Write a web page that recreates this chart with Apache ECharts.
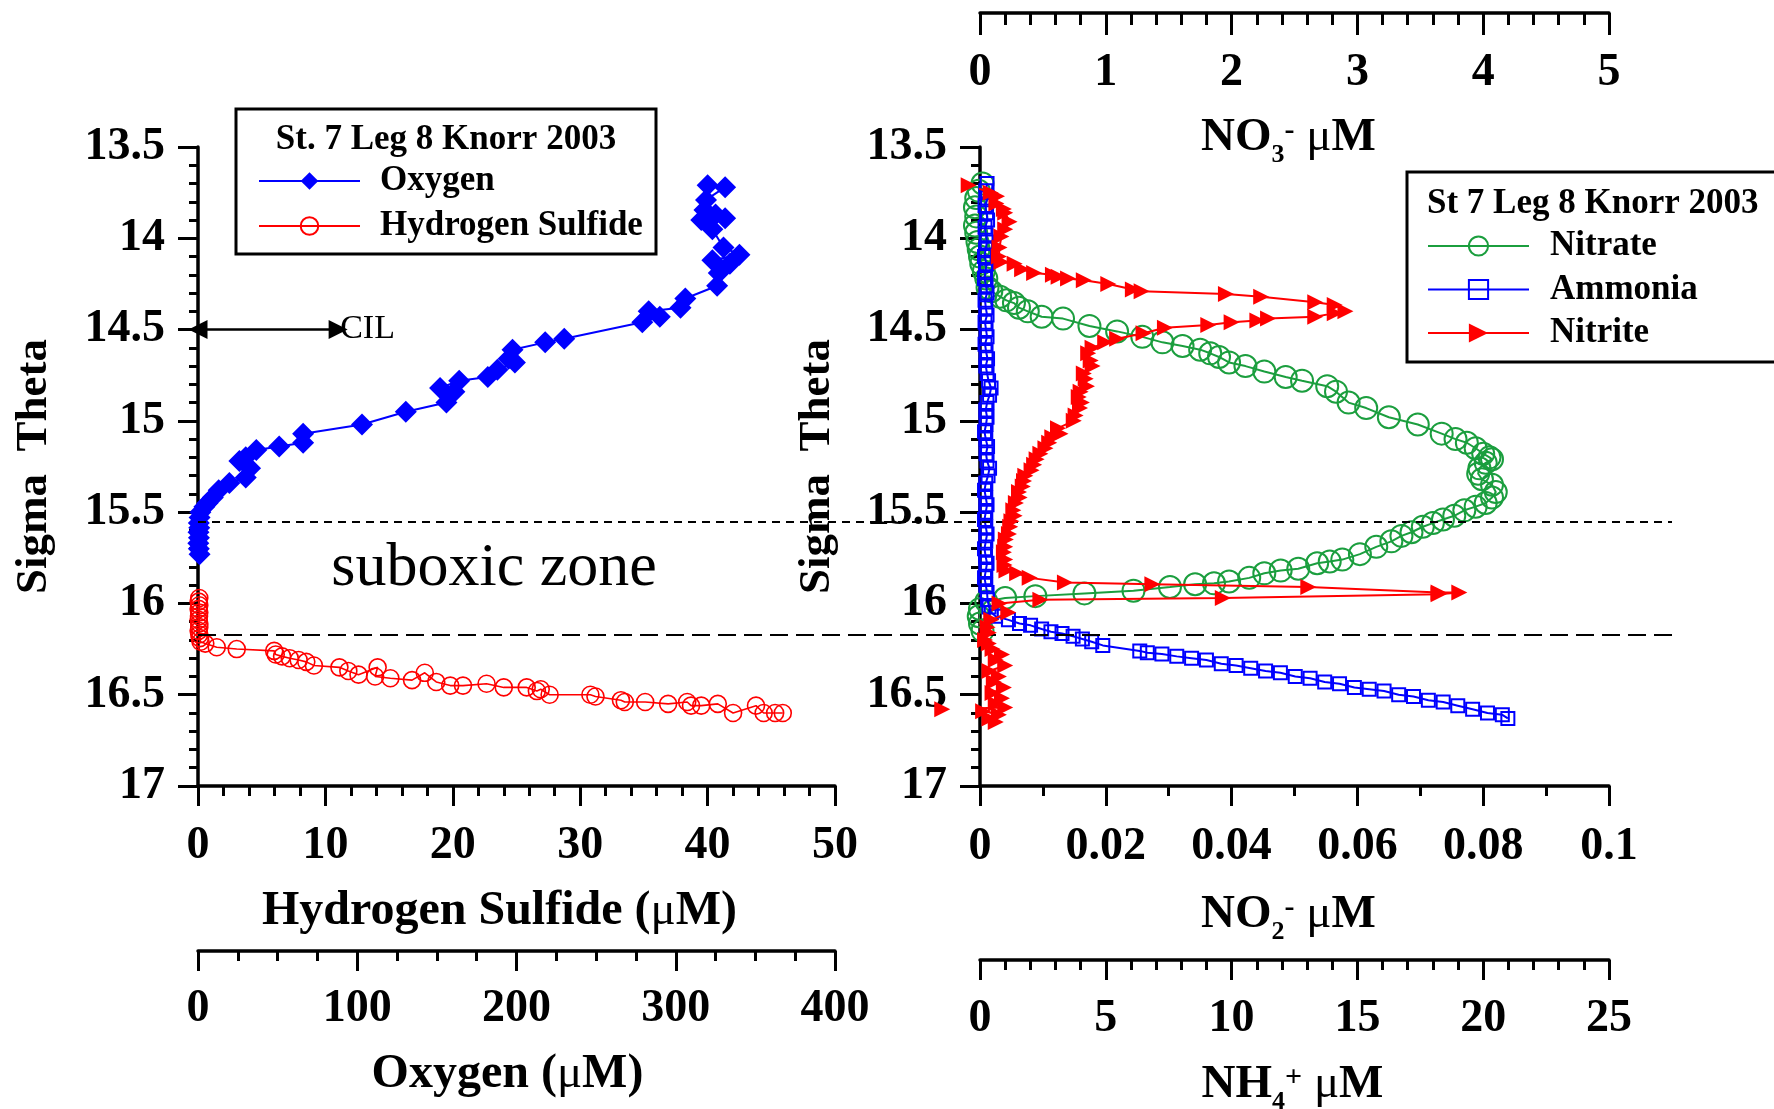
<!DOCTYPE html>
<html>
<head>
<meta charset="utf-8">
<script src="https://cdn.jsdelivr.net/npm/echarts@6/dist/echarts.min.js"></script>
<style>
html,body{margin:0;padding:0;background:#fff;}
#chart{width:1774px;height:1109px;}
</style>
</head>
<body>
<div id="chart"></div>
<script>
// ---------- DATA ----------
// Oxygen: [O2 (uM), sigma-theta]
const oxygen = [
 [320,13.71],[331,13.72],[319,13.79],[318,13.845],[325,13.87],[331,13.89],[316,13.90],[323,13.95],
 [330,14.05],[340,14.09],[323,14.12],[334,14.14],[327,14.19],[326,14.26],[306,14.33],[303,14.38],
 [283,14.40],[290,14.43],[279,14.46],[230,14.55],[218,14.57],[197.5,14.61],[195,14.66],[199,14.68],
 [188,14.72],[182,14.76],[164,14.78],[152,14.82],[161,14.84],[156,14.90],[130.5,14.95],[103,15.02],
 [66,15.07],[66,15.12],[51,15.14],[36.6,15.16],[30,15.20],[26,15.22],[32.7,15.26],[30,15.31],
 [19.7,15.34],[13,15.38],[9.3,15.42],[6,15.45],[4,15.47],[1.5,15.50],[1,15.53],[0.5,15.56],
 [0.8,15.585],[0.3,15.61],[0.6,15.64],[0.2,15.67],[0.5,15.70],[1,15.73]
];
// Hydrogen sulfide: [H2S (uM), sigma-theta]
const hydrogenSulfide = [
 [0.1,15.97],[0.05,15.99],[0.1,16.01],[0.05,16.03],[0.1,16.05],[0.08,16.07],[0.05,16.09],[0.1,16.11],
 [0.1,16.13],[0.05,16.15],[0.1,16.17],[0.15,16.19],[0.2,16.21],[0.57,16.22],[1.47,16.24],[3.04,16.25],
 [5.98,16.26],[6.1,16.28],[6.6,16.29],[7.2,16.30],[7.9,16.31],[8.5,16.32],[9.1,16.34],[11.1,16.35],
 [11.8,16.37],[12.6,16.39],[14.1,16.35],[13.9,16.40],[15.1,16.41],[16.8,16.42],[17.8,16.38],[18.7,16.43],
 [19.8,16.45],[20.8,16.45],[22.65,16.44],[24.0,16.46],[25.8,16.46],[26.6,16.48],[26.9,16.47],[27.6,16.50],
 [30.8,16.50],[31.2,16.51],[33.2,16.53],[33.5,16.54],[35.1,16.54],[36.9,16.55],[38.4,16.54],[38.7,16.56],
 [39.5,16.56],[40.8,16.55],[42.0,16.60],[43.8,16.56],[44.4,16.60],[45.3,16.60],[45.9,16.60]
];
// Nitrate: [NO3 (uM), sigma-theta]
const nitrate = [
 [0.02,13.70],[-0.01,13.74],[-0.03,13.78],[-0.04,13.83],[-0.03,13.88],[-0.04,13.93],[-0.03,13.97],[-0.02,14.02],
 [-0.01,14.06],[0.0,14.10],[0.01,14.14],[0.03,14.18],[0.05,14.22],[0.06,14.27],[0.09,14.29],[0.16,14.32],
 [0.21,14.34],[0.27,14.355],[0.31,14.38],[0.38,14.40],[0.49,14.43],[0.66,14.44],[0.87,14.48],[1.09,14.51],
 [1.29,14.54],[1.45,14.57],[1.61,14.59],[1.75,14.61],[1.83,14.63],[1.90,14.65],[1.98,14.68],[2.11,14.70],
 [2.26,14.73],[2.43,14.76],[2.56,14.78],[2.76,14.81],[2.83,14.84],[2.93,14.90],[3.07,14.93],[3.25,14.98],
 [3.48,15.02],[3.67,15.07],[3.78,15.10],[3.87,15.12],[3.94,15.15],[4.00,15.18],[4.05,15.20],[4.07,15.21],
 [4.02,15.23],[3.97,15.26],[3.96,15.29],[3.99,15.32],[4.07,15.35],[4.10,15.39],[4.07,15.42],[4.02,15.45],
 [3.94,15.47],[3.85,15.49],[3.77,15.52],[3.68,15.54],[3.60,15.56],[3.52,15.58],[3.43,15.61],[3.35,15.63],
 [3.27,15.66],[3.15,15.69],[3.02,15.73],[2.88,15.76],[2.78,15.77],[2.68,15.78],[2.53,15.81],[2.39,15.82],
 [2.26,15.835],[2.14,15.86],[1.98,15.88],[1.86,15.89],[1.71,15.895],[1.51,15.91],[1.22,15.93],[0.83,15.945],
 [0.44,15.96],[0.20,15.97],[0.05,15.99],[0.0,16.03],[-0.01,16.07],[0.0,16.11],[0.02,16.15]
];
// Ammonia: [NH4 (uM), sigma-theta]
const ammonia = [
 [0.28,13.70],[0.23,13.74],[0.30,13.78],[0.20,13.82],[0.26,13.86],[0.30,13.90],[0.20,13.94],[0.24,13.98],
 [0.28,14.02],[0.22,14.06],[0.18,14.10],[0.26,14.14],[0.22,14.18],[0.18,14.22],[0.24,14.26],[0.28,14.30],
 [0.20,14.34],[0.23,14.38],[0.28,14.42],[0.20,14.46],[0.24,14.50],[0.28,14.54],[0.20,14.58],[0.24,14.62],
 [0.30,14.66],[0.23,14.70],[0.28,14.74],[0.34,14.78],[0.44,14.82],[0.38,14.86],[0.28,14.90],[0.23,14.94],
 [0.28,14.98],[0.24,15.02],[0.18,15.06],[0.23,15.10],[0.30,15.14],[0.24,15.18],[0.28,15.22],[0.38,15.26],
 [0.32,15.30],[0.23,15.34],[0.18,15.38],[0.23,15.42],[0.28,15.46],[0.23,15.50],[0.18,15.54],[0.23,15.58],
 [0.28,15.62],[0.23,15.66],[0.18,15.70],[0.22,15.74],[0.28,15.78],[0.23,15.82],[0.18,15.86],[0.23,15.90],
 [0.28,15.94],[0.30,15.98],[0.36,16.02],[0.45,16.05],[0.62,16.07],[1.13,16.09],[1.57,16.11],[2.01,16.12],
 [2.45,16.14],[2.82,16.155],[3.26,16.165],[3.70,16.18],[4.07,16.195],[4.44,16.21],[4.88,16.23],[6.35,16.26],
 [6.65,16.27],[7.23,16.277],[7.82,16.29],[8.41,16.30],[9.00,16.31],[9.59,16.33],[10.18,16.34],[10.76,16.355],
 [11.35,16.37],[11.94,16.38],[12.53,16.40],[13.12,16.41],[13.70,16.43],[14.29,16.44],[14.88,16.46],[15.47,16.47],
 [16.06,16.48],[16.64,16.50],[17.23,16.51],[17.82,16.53],[18.41,16.54],[18.99,16.56],[19.58,16.58],[20.17,16.60],
 [20.76,16.61],[20.98,16.63]
];
// Nitrite: [NO2 (uM), sigma-theta]
const nitrite = [
 [-0.0018,13.71],[0.0017,13.75],[0.0027,13.77],[0.0026,13.81],[0.0038,13.84],[0.0040,13.86],[0.0047,13.91],[0.0040,13.95],
 [0.0034,13.99],[0.0031,14.05],[0.0030,14.10],[0.0034,14.13],[0.0055,14.14],[0.0067,14.17],[0.0086,14.19],[0.0116,14.20],
 [0.0125,14.21],[0.0140,14.22],[0.0165,14.23],[0.0204,14.25],[0.0243,14.28],[0.0257,14.29],[0.0391,14.305],[0.0447,14.32],
 [0.0533,14.35],[0.0564,14.365],[0.0581,14.40],[0.0564,14.41],[0.0533,14.43],[0.0458,14.44],[0.0441,14.45],[0.0400,14.46],
 [0.0363,14.475],[0.0294,14.49],[0.0260,14.52],[0.0218,14.55],[0.0199,14.57],[0.0179,14.60],[0.0172,14.63],[0.0176,14.67],
 [0.0179,14.70],[0.0165,14.74],[0.0168,14.77],[0.0170,14.81],[0.0160,14.84],[0.0157,14.87],[0.0162,14.90],[0.0159,14.93],
 [0.0152,14.97],[0.0149,15.00],[0.0124,15.04],[0.0128,15.07],[0.0115,15.09],[0.0110,15.12],[0.0104,15.15],[0.0096,15.18],
 [0.0090,15.21],[0.0086,15.24],[0.0082,15.27],[0.0072,15.30],[0.0070,15.33],[0.0068,15.36],[0.0062,15.39],[0.0063,15.42],
 [0.0057,15.45],[0.0053,15.49],[0.0055,15.52],[0.0050,15.55],[0.0048,15.58],[0.0046,15.62],[0.0041,15.65],[0.0040,15.69],
 [0.0038,15.72],[0.0040,15.76],[0.0039,15.79],[0.0042,15.82],[0.0059,15.835],[0.0079,15.86],[0.0135,15.885],[0.0274,15.895],
 [0.0522,15.91],[0.0729,15.94],[0.0762,15.94],[0.0729,15.95],[0.0386,15.97],[0.0096,15.98],[0.0031,16.00],[0.0045,16.05],
 [0.0018,16.09],[0.0012,16.13],[0.0014,16.16],[0.0008,16.20],[0.0014,16.22],[0.0020,16.25],[0.0035,16.28],[0.0025,16.31],
 [0.0040,16.34],[0.0015,16.37],[0.0030,16.40],[0.0022,16.43],[0.0038,16.46],[0.0020,16.49],[0.0035,16.52],[0.0025,16.55],
 [0.0040,16.57],[-0.0060,16.58],[0.0005,16.59],[0.0030,16.61],[0.0015,16.63],[0.0025,16.65]
];
// Annotation values
const cilArrow = [[0,14.5],[11,14.5]];
const zoneBoundaries = [15.55, 16.17];
// Axis ranges / ticks
const sigmaAxis = {min:13.5, max:17, interval:0.5};
const h2sAxis = {min:0, max:50, interval:10};
const o2Axis = {min:0, max:400, interval:100};
const no2Axis = {min:0, max:0.1, interval:0.02};
const nh4Axis = {min:0, max:25, interval:5};
const no3Axis = {min:0, max:5, interval:1};

// ---------- STYLE ----------
const FONT = '"Liberation Serif","Times New Roman",Times,serif';
const BLUE = '#0000ff', RED = '#ff0000', GREEN = '#1b9e3e';

function valueAxis(r, extra){
  const base = {
    type:'value', min:r.min, max:r.max, interval:r.interval,
    nameMoveOverlap:false,
    axisLine:{show:true, onZero:false, lineStyle:{color:'#000', width:3.5}},
    axisTick:{show:true, length:20, lineStyle:{color:'#000', width:3}},
    minorTick:{show:true, length:10, lineStyle:{color:'#000', width:3}},
    splitLine:{show:false}, minorSplitLine:{show:false},
    axisLabel:{color:'#000', fontSize:46, fontWeight:'bold', fontFamily:FONT, showMinLabel:true, showMaxLabel:true},
    nameLocation:'middle',
    nameTextStyle:{color:'#000', fontSize:47, fontWeight:'bold', fontFamily:FONT, verticalAlign:'middle', align:'center'}
  };
  return echarts.util.merge(base, extra, true);
}

const subRich = {
  sub:{fontSize:26, fontWeight:'bold', fontFamily:FONT, color:'#000', lineHeight:26, padding:[34,0,0,0]},
  sup:{fontSize:30, fontWeight:'bold', fontFamily:FONT, color:'#000', lineHeight:30, padding:[0,0,14,0]},
  mu:{fontSize:47, fontWeight:'normal', fontFamily:FONT, color:'#000'}
};

const chart = echarts.init(document.getElementById('chart'), null, {renderer:'canvas'});

const option = {
  animation:false,
  backgroundColor:'#fff',
  grid:[
    {left:198, top:147, width:637, height:639, outerBoundsMode:'none', containLabel:false},
    {left:980, top:147, width:629, height:639, outerBoundsMode:'none', containLabel:false},
    {left:198, top:147, width:1474, height:639, outerBoundsMode:'none', containLabel:false}
  ],
  xAxis:[
    valueAxis(h2sAxis, {gridIndex:0, position:'bottom', name:'Hydrogen Sulfide ({mu|\u03bc}M)', nameGap:126,
      minorTick:{splitNumber:5}, axisLabel:{margin:37}, nameTextStyle:{rich:subRich, fontSize:48, padding:[0,34,0,0]}}),
    valueAxis(o2Axis, {gridIndex:0, position:'bottom', offset:165, name:'Oxygen ({mu|\u03bc}M)', nameGap:124,
      minorTick:{splitNumber:4}, axisLabel:{margin:35}, nameTextStyle:{rich:subRich, fontSize:48, padding:[0,18,0,0]}}),
    valueAxis(no2Axis, {gridIndex:1, position:'bottom', name:'NO{sub|2}{sup|-} {mu|\u03bc}M', nameGap:129,
      minorTick:{splitNumber:2}, axisLabel:{margin:38}, nameTextStyle:{rich:subRich, padding:[0,12,0,0]}}),
    valueAxis(nh4Axis, {gridIndex:1, position:'bottom', offset:174, name:'NH{sub|4}{sup|+} {mu|\u03bc}M', nameGap:125,
      minorTick:{splitNumber:5}, axisLabel:{margin:36}, nameTextStyle:{rich:subRich, padding:[0,4,0,0]}}),
    valueAxis(no3Axis, {gridIndex:1, position:'top', offset:134, name:'NO{sub|3}{sup|-} {mu|\u03bc}M', nameGap:-125,
      minorTick:{splitNumber:5, length:12}, axisTick:{inside:true, length:22}, axisLabel:{inside:true, margin:37},
      nameTextStyle:{rich:subRich, padding:[0,12,0,0]}}),
    {type:'value', gridIndex:2, min:0, max:1, show:false}
  ],
  yAxis:[
    valueAxis(sigmaAxis, {gridIndex:0, inverse:true, name:'Sigma  Theta', nameGap:164,
      minorTick:{splitNumber:5, length:9}, axisLabel:{margin:33}, nameTextStyle:{fontSize:45}}),
    valueAxis(sigmaAxis, {gridIndex:1, inverse:true, name:'Sigma  Theta', nameGap:163,
      minorTick:{splitNumber:5, length:9}, axisLabel:{margin:33}, nameTextStyle:{fontSize:45}}),
    {type:'value', gridIndex:2, inverse:true, min:sigmaAxis.min, max:sigmaAxis.max, show:false}
  ],
  legend:[
    {
      data:['Oxygen','Hydrogen Sulfide'], orient:'vertical', left:258, top:163, padding:0,
      itemWidth:101, itemHeight:22, itemGap:9, selectedMode:false,
      textStyle:{color:'#000', fontSize:35, fontWeight:'bold', fontFamily:FONT, lineHeight:36, padding:[0,0,0,15]}
    },
    {
      data:['Nitrate','Ammonia','Nitrite'], orient:'vertical', left:1427, top:228, padding:0,
      itemWidth:101, itemHeight:24, itemGap:7.5, selectedMode:false,
      textStyle:{color:'#000', fontSize:35, fontWeight:'bold', fontFamily:FONT, lineHeight:36, padding:[0,0,0,16]}
    }
  ],
  series:[
    {
      name:'Oxygen', type:'line', xAxisIndex:1, yAxisIndex:0, data:oxygen, clip:false,
      symbol:'diamond', symbolSize:22, showAllSymbol:true,
      itemStyle:{color:BLUE}, lineStyle:{color:BLUE, width:2}, z:3
    },
    {
      name:'Hydrogen Sulfide', type:'line', xAxisIndex:0, yAxisIndex:0, data:hydrogenSulfide, clip:false,
      symbol:'circle', symbolSize:17, showAllSymbol:true,
      itemStyle:{color:'rgba(0,0,0,0)', borderColor:RED, borderWidth:1.6},
      lineStyle:{color:RED, width:1.6}, z:3,
      markLine:{
        silent:true, animation:false, symbol:['triangle','triangle'], symbolSize:19,
        lineStyle:{color:'#000', width:2.5, type:'solid'},
        label:{show:true, position:'end', formatter:'CIL', color:'#000', fontSize:34, fontFamily:FONT, fontWeight:'normal', distance:2},
        data:[[{coord:cilArrow[0]},{coord:cilArrow[1]}]]
      }
    },
    {
      name:'Nitrate', type:'line', xAxisIndex:4, yAxisIndex:1, data:nitrate, clip:false,
      symbol:'circle', symbolSize:22, showAllSymbol:true,
      itemStyle:{color:'rgba(0,0,0,0)', borderColor:GREEN, borderWidth:2},
      lineStyle:{color:GREEN, width:2}, z:3
    },
    {
      name:'Ammonia', type:'line', xAxisIndex:3, yAxisIndex:1, data:ammonia, clip:false,
      symbol:'rect', symbolSize:13, showAllSymbol:true,
      itemStyle:{color:'rgba(0,0,0,0)', borderColor:BLUE, borderWidth:2},
      lineStyle:{color:BLUE, width:2}, z:4
    },
    {
      name:'Nitrite', type:'line', xAxisIndex:2, yAxisIndex:1, data:nitrite, clip:false,
      symbol:'triangle', symbolSize:16, symbolRotate:-90, showAllSymbol:true,
      itemStyle:{color:RED}, lineStyle:{color:RED, width:2}, z:5
    },
    {
      name:'zones', type:'line', xAxisIndex:5, yAxisIndex:2, data:[], silent:true,
      markLine:{
        silent:true, animation:false, symbol:'none', label:{show:false},
        data:[
          {yAxis:zoneBoundaries[0], lineStyle:{color:'#000', width:2, type:[8,6]}},
          {yAxis:zoneBoundaries[1], lineStyle:{color:'#000', width:2, type:[18,8]}}
        ]
      }
    }
  ],
  graphic:[
    {type:'rect', shape:{x:236, y:109, width:420, height:145}, style:{fill:'#fff', stroke:'#000', lineWidth:3}, z:-1, silent:true},
    {type:'text', x:446, y:140, style:{text:'St. 7 Leg 8 Knorr 2003', font:'bold 35px '+FONT, fill:'#000', textAlign:'center', textVerticalAlign:'middle'}, silent:true},
    {type:'rect', shape:{x:1407, y:172, width:420, height:190}, style:{fill:'#fff', stroke:'#000', lineWidth:3}, z:-1, silent:true},
    {type:'text', x:1427, y:204, style:{text:'St 7 Leg 8 Knorr 2003', font:'bold 35px '+FONT, fill:'#000', textAlign:'left', textVerticalAlign:'middle'}, silent:true},
    {type:'text', x:494, y:569, style:{text:'suboxic zone', font:'62px '+FONT, fill:'#000', textAlign:'center', textVerticalAlign:'middle'}, silent:true}
  ]
};
chart.setOption(option);
</script>
</body>
</html>
